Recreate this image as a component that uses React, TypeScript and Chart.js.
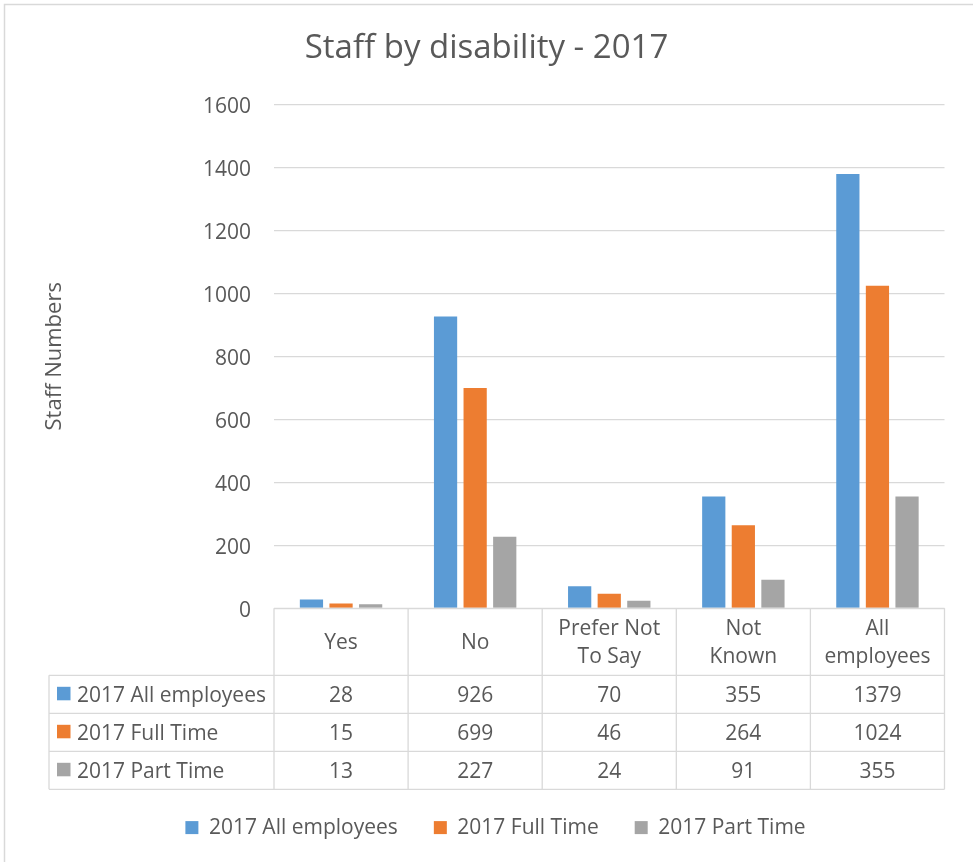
import React, { useEffect, useRef } from "react";
import { Chart, registerables } from "chart.js";

Chart.register(...registerables);

// ---- data ----
const categories: string[][] = [["Yes"], ["No"], ["Prefer Not", "To Say"], ["Not", "Known"], ["All", "employees"]];
const seriesNames: string[] = ["2017 All employees", "2017 Full Time", "2017 Part Time"];
const allEmployees: number[] = [28, 926, 70, 355, 1379];
const fullTime: number[] = [15, 699, 46, 264, 1024];
const partTime: number[] = [13, 227, 24, 91, 355];
const yMin = 0;
const yMax = 1600;
const yStep = 200;
const chartTitle = "Staff by disability - 2017";
const yAxisTitle = "Staff Numbers";

// ---- styles ----
const seriesColors = ["#5B9BD5", "#ED7D31", "#A5A5A5"];
const TEXT = "#595959";
const LINE = "#D9D9D9";
const FONT = "'Open Sans', sans-serif";
const W = 973;
const H = 862;
const HEADER_H = 67;
const ROW_H = 38;
const TABLE_LEFT = 49;

const chartPlugin = {
  id: "excelDecor",
  afterLayout(chart: any) {
    const lg = chart.legend;
    if (lg) {
      lg.left += 9;
      lg.right += 9;
    }
  },
  beforeDraw(chart: any) {
    const ctx = chart.ctx;
    ctx.save();
    ctx.fillStyle = "#FFFFFF";
    ctx.fillRect(0, 0, W, H);
    ctx.strokeStyle = LINE;
    ctx.lineWidth = 1.5;
    ctx.strokeRect(4.5, 4.5, W + 20, H + 20);
    ctx.restore();
  },
  afterDraw(chart: any) {
    const ctx = chart.ctx;
    const xs = chart.scales.x;
    const labels = chart.data.labels as string[][];
    const n = labels.length;
    const step = xs.getPixelForValue(1) - xs.getPixelForValue(0);
    const bounds: number[] = [];
    for (let i = 0; i <= n; i++) bounds.push(xs.getPixelForValue(0) - step / 2 + i * step);
    const top = chart.chartArea.bottom;
    const dsCount = chart.data.datasets.length;
    const rowTops: number[] = [];
    for (let d = 0; d <= dsCount; d++) rowTops.push(top + HEADER_H + d * ROW_H);
    const bottom = rowTops[dsCount];

    ctx.save();
    ctx.strokeStyle = LINE;
    ctx.lineWidth = 1.3;
    ctx.beginPath();
    ctx.moveTo(bounds[0], top);
    ctx.lineTo(bounds[n], top);
    for (const b of bounds) {
      ctx.moveTo(b, top);
      ctx.lineTo(b, bottom);
    }
    ctx.moveTo(TABLE_LEFT, rowTops[0]);
    ctx.lineTo(TABLE_LEFT, bottom);
    for (const r of rowTops) {
      ctx.moveTo(TABLE_LEFT, r);
      ctx.lineTo(bounds[n], r);
    }
    ctx.stroke();

    ctx.fillStyle = TEXT;
    ctx.font = `21px ${FONT}`;
    ctx.textBaseline = "middle";
    ctx.textAlign = "center";
    for (let i = 0; i < n; i++) {
      const cx = (bounds[i] + bounds[i + 1]) / 2;
      const lines = Array.isArray(labels[i]) ? labels[i] : [String(labels[i])];
      const cy = top + 35;
      lines.forEach((ln, j) => {
        ctx.fillText(ln, cx, cy + (j - (lines.length - 1) / 2) * 28);
      });
    }
    chart.data.datasets.forEach((ds: any, d: number) => {
      const cy = rowTops[d] + 20.5;
      ctx.fillStyle = ds.backgroundColor;
      ctx.fillRect(57, rowTops[d] + 11.5, 13.5, 13.5);
      ctx.fillStyle = TEXT;
      ctx.textAlign = "left";
      ctx.fillText(ds.label, 77, cy);
      ctx.textAlign = "center";
      for (let i = 0; i < n; i++) {
        const cx = (bounds[i] + bounds[i + 1]) / 2;
        ctx.fillText(String(ds.data[i]), cx, cy);
      }
    });
    ctx.restore();
  },
};

export default function App() {
  const ref = useRef<HTMLCanvasElement | null>(null);

  useEffect(() => {
    if (!ref.current) return;
    const values = [allEmployees, fullTime, partTime];
    const chart = new Chart(ref.current, {
      type: "bar",
      data: {
        labels: categories as any,
        datasets: seriesNames.map((name, k) => ({
          label: name,
          data: values[k],
          backgroundColor: seriesColors[k],
          borderWidth: 0,
          categoryPercentage: 0.662,
          barPercentage: 0.785,
        })),
      },
      options: {
        responsive: false,
        animation: false,
        devicePixelRatio: 1,
        layout: { padding: { top: 0, left: 0, right: 0, bottom: 13.9 } },
        plugins: {
          title: {
            display: true,
            text: chartTitle,
            color: TEXT,
            font: { family: FONT, size: 33, weight: "normal" },
            padding: { top: 29.2, bottom: 35.5 },
          },
          legend: {
            display: true,
            position: "bottom",
            labels: {
              color: TEXT,
              font: { family: FONT, size: 21 },
              boxWidth: 13,
              boxHeight: 13,
              padding: 36,
            },
          },
          tooltip: { enabled: false },
        },
        scales: {
          x: {
            display: true,
            ticks: { display: false },
            grid: { display: false },
            border: { display: false },
            afterFit: (s: any) => {
              s.height = 172.8;
            },
          },
          y: {
            min: yMin,
            max: yMax,
            ticks: {
              stepSize: yStep,
              color: TEXT,
              font: { family: FONT, size: 21 },
              padding: 23,
              labelOffset: 2.5,
              callback: (v: any) => String(v),
            },
            grid: { color: LINE, lineWidth: 1.3, drawTicks: false },
            border: { display: false },
            title: {
              display: true,
              text: yAxisTitle,
              color: TEXT,
              font: { family: FONT, size: 22 },
              padding: { top: 41.3, bottom: 0 },
            },
            afterFit: (s: any) => {
              s.width = 274;
            },
          },
          yRight: {
            type: "linear",
            position: "right",
            display: true,
            ticks: { display: false },
            grid: { display: false, drawOnChartArea: false },
            border: { display: false },
            afterFit: (s: any) => {
              s.width = 28.5;
            },
          },
        },
      },
      plugins: [chartPlugin],
    } as any);
    return () => chart.destroy();
  }, []);

  return (
    <div style={{ position: "fixed", left: 0, top: 0, width: W, height: H, background: "#fff" }}>
      <canvas ref={ref} width={W} height={H} style={{ width: W, height: H, display: "block" }} />
    </div>
  );
}
